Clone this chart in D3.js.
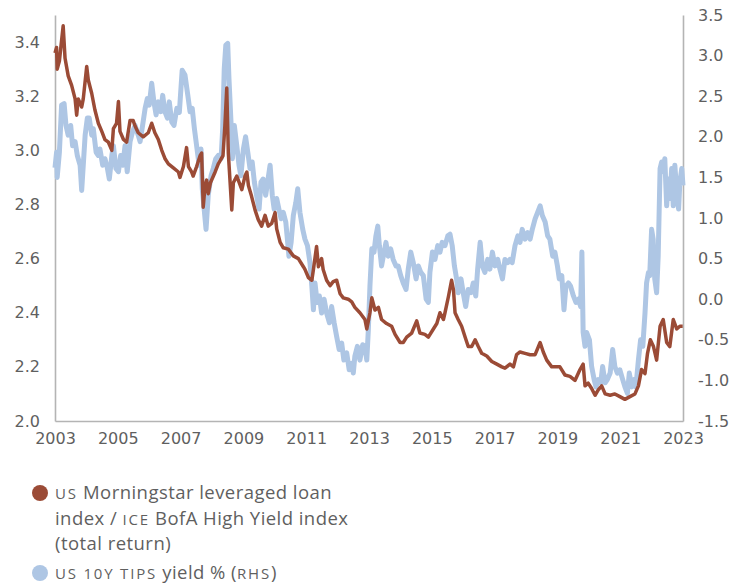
<!DOCTYPE html>
<html>
<head>
<meta charset="utf-8">
<script src="https://cdn.jsdelivr.net/npm/d3@7"></script>
<style>
  body { margin: 0; background: #fff; }
  svg text { fill: #5f5f5f; }
  .sc { font-variant-caps: all-small-caps; letter-spacing: 1.8px; font-size: 21px; }
</style>
</head>
<body>
<svg id="chart" width="734" height="586"></svg>
<script>
// US loan / HY index ratio (left axis), [year, ratio]
const loanPoints = [
  [2003.0,3.36],[2003.05,3.38],[2003.07,3.30],[2003.14,3.33],[2003.26,3.46],[2003.32,3.34],[2003.42,3.275],[2003.53,3.24],
  [2003.64,3.19],[2003.69,3.13],[2003.74,3.19],[2003.85,3.16],[2003.90,3.19],[2004.01,3.31],[2004.06,3.26],[2004.17,3.21],
  [2004.27,3.15],[2004.38,3.10],[2004.49,3.07],[2004.59,3.04],[2004.70,3.03],[2004.81,3.00],[2004.86,3.08],[2004.96,3.10],
  [2005.02,3.18],[2005.07,3.07],[2005.18,3.04],[2005.28,3.03],[2005.39,3.11],[2005.49,3.11],[2005.55,3.09],[2005.65,3.065],
  [2005.81,3.05],[2005.97,3.065],[2006.08,3.10],[2006.18,3.065],[2006.29,3.04],[2006.40,3.00],[2006.50,2.97],[2006.61,2.95],
  [2006.77,2.935],[2006.93,2.92],[2006.98,2.90],[2007.09,2.94],[2007.19,3.01],[2007.25,2.94],[2007.35,2.92],[2007.40,2.905],
  [2007.51,2.94],[2007.62,2.98],[2007.67,2.99],[2007.72,2.79],[2007.78,2.87],[2007.83,2.89],[2007.88,2.84],[2007.95,2.88],
  [2008.10,2.92],[2008.20,2.95],[2008.35,2.98],[2008.41,3.09],[2008.47,3.23],[2008.52,2.99],[2008.63,2.78],[2008.68,2.88],
  [2008.79,2.905],[2008.95,2.855],[2009.05,2.905],[2009.11,2.92],[2009.16,2.87],[2009.26,2.83],[2009.37,2.78],[2009.47,2.745],
  [2009.58,2.72],[2009.69,2.76],[2009.79,2.72],[2009.90,2.73],[2010.01,2.77],[2010.06,2.71],[2010.17,2.66],[2010.27,2.64],
  [2010.43,2.635],[2010.59,2.61],[2010.75,2.60],[2010.91,2.57],[2010.96,2.56],[2011.07,2.53],[2011.18,2.52],[2011.23,2.56],
  [2011.33,2.645],[2011.39,2.57],[2011.49,2.60],[2011.54,2.56],[2011.65,2.52],[2011.76,2.50],[2011.86,2.515],[2011.97,2.52],
  [2012.08,2.47],[2012.18,2.455],[2012.34,2.45],[2012.45,2.44],[2012.55,2.42],[2012.71,2.40],[2012.87,2.375],[2012.93,2.34],
  [2013.03,2.40],[2013.09,2.455],[2013.19,2.41],[2013.30,2.42],[2013.40,2.375],[2013.56,2.36],[2013.72,2.35],[2013.83,2.32],
  [2013.99,2.29],[2014.09,2.29],[2014.20,2.31],[2014.36,2.325],[2014.52,2.37],[2014.62,2.325],[2014.78,2.32],[2014.89,2.31],
  [2015.05,2.34],[2015.16,2.36],[2015.26,2.40],[2015.37,2.375],[2015.42,2.40],[2015.53,2.46],[2015.63,2.52],[2015.69,2.485],
  [2015.74,2.40],[2015.84,2.375],[2015.95,2.35],[2016.06,2.31],[2016.16,2.275],[2016.27,2.275],[2016.38,2.30],[2016.48,2.275],
  [2016.59,2.25],[2016.75,2.24],[2016.91,2.22],[2017.07,2.21],[2017.23,2.20],[2017.33,2.195],[2017.49,2.21],[2017.60,2.20],
  [2017.70,2.245],[2017.81,2.255],[2017.97,2.25],[2018.13,2.245],[2018.29,2.245],[2018.45,2.29],[2018.55,2.255],[2018.66,2.225],
  [2018.82,2.20],[2018.92,2.20],[2019.08,2.20],[2019.24,2.17],[2019.40,2.165],[2019.56,2.15],[2019.72,2.19],[2019.82,2.21],
  [2019.88,2.13],[2019.98,2.14],[2020.09,2.12],[2020.20,2.095],[2020.30,2.115],[2020.41,2.13],[2020.52,2.10],[2020.68,2.095],
  [2020.83,2.10],[2020.99,2.09],[2021.15,2.08],[2021.31,2.09],[2021.47,2.10],[2021.58,2.13],[2021.68,2.19],[2021.79,2.175],
  [2021.87,2.25],[2021.96,2.30],[2022.06,2.275],[2022.16,2.225],[2022.27,2.35],[2022.37,2.375],[2022.48,2.29],[2022.58,2.275],
  [2022.69,2.375],[2022.80,2.34],[2022.90,2.35],[2022.99,2.35]
];

// US 10y TIPS yield % (right axis), [year, yield]
const tipsPoints = [
  [2003.0,1.62],[2003.05,1.81],[2003.07,1.50],[2003.14,1.81],[2003.21,2.39],[2003.29,2.41],[2003.35,2.14],[2003.42,2.02],
  [2003.50,2.14],[2003.56,1.89],[2003.64,1.94],[2003.71,1.77],[2003.80,1.65],[2003.85,1.34],[2003.90,1.65],[2003.96,2.02],
  [2004.03,2.23],[2004.09,2.23],[2004.17,2.02],[2004.22,2.10],[2004.31,1.81],[2004.38,1.77],[2004.43,1.85],[2004.52,1.65],
  [2004.59,1.73],[2004.67,1.61],[2004.73,1.48],[2004.81,1.77],[2004.86,1.89],[2004.94,1.61],[2005.02,1.57],[2005.09,1.77],
  [2005.16,1.65],[2005.23,1.89],[2005.30,1.57],[2005.39,1.94],[2005.47,2.06],[2005.55,2.14],[2005.65,2.02],[2005.71,1.94],
  [2005.79,2.14],[2005.87,2.35],[2005.94,2.47],[2006.00,2.39],[2006.08,2.66],[2006.15,2.43],[2006.22,2.27],[2006.29,2.43],
  [2006.37,2.31],[2006.43,2.51],[2006.50,2.31],[2006.58,2.23],[2006.64,2.43],[2006.72,2.18],[2006.79,2.14],[2006.88,2.35],
  [2006.96,2.30],[2007.05,2.82],[2007.14,2.76],[2007.23,2.51],[2007.30,2.31],[2007.37,2.35],[2007.44,2.10],[2007.51,1.89],
  [2007.59,1.65],[2007.65,1.85],[2007.69,1.36],[2007.75,1.11],[2007.81,0.86],[2007.88,1.28],[2007.97,1.52],[2008.04,1.61],
  [2008.12,1.73],[2008.20,1.77],[2008.29,1.73],[2008.34,2.10],[2008.39,2.84],[2008.44,3.13],[2008.50,3.15],[2008.54,2.72],
  [2008.61,2.14],[2008.65,1.73],[2008.71,2.14],[2008.79,1.89],[2008.86,1.65],[2008.92,1.52],[2009.00,1.85],[2009.07,2.00],
  [2009.14,1.81],[2009.21,1.61],[2009.28,1.69],[2009.35,1.44],[2009.42,1.28],[2009.50,1.11],[2009.56,1.44],[2009.63,1.48],
  [2009.71,1.28],[2009.77,1.44],[2009.85,1.65],[2009.92,1.28],[2009.98,1.11],[2010.06,1.24],[2010.13,1.11],[2010.20,0.99],
  [2010.27,1.07],[2010.35,0.95],[2010.41,0.70],[2010.45,0.53],[2010.52,0.70],[2010.59,1.03],[2010.67,1.19],[2010.73,1.36],
  [2010.80,1.07],[2010.89,0.86],[2010.96,0.74],[2011.04,0.66],[2011.12,0.45],[2011.18,0.16],[2011.23,-0.13],[2011.28,0.20],
  [2011.35,-0.04],[2011.42,0.04],[2011.49,-0.17],[2011.57,0.00],[2011.65,-0.17],[2011.74,-0.29],[2011.81,-0.09],[2011.89,-0.29],
  [2011.97,-0.46],[2012.05,-0.62],[2012.13,-0.54],[2012.20,-0.75],[2012.29,-0.66],[2012.37,-0.87],[2012.45,-0.79],[2012.50,-0.91],
  [2012.55,-0.70],[2012.63,-0.58],[2012.71,-0.75],[2012.80,-0.56],[2012.87,-0.58],[2012.93,-0.75],[2012.98,-0.37],[2013.03,0.16],
  [2013.09,0.62],[2013.16,0.58],[2013.22,0.78],[2013.28,0.90],[2013.33,0.66],[2013.40,0.41],[2013.48,0.58],[2013.54,0.70],
  [2013.61,0.53],[2013.69,0.62],[2013.77,0.49],[2013.86,0.41],[2013.93,0.41],[2014.01,0.29],[2014.09,0.20],[2014.18,0.12],
  [2014.25,0.37],[2014.33,0.58],[2014.41,0.45],[2014.50,0.25],[2014.57,0.41],[2014.65,0.33],[2014.73,0.29],[2014.82,0.00],
  [2014.89,-0.04],[2014.94,0.33],[2015.02,0.58],[2015.10,0.49],[2015.19,0.66],[2015.26,0.58],[2015.33,0.70],[2015.42,0.66],
  [2015.51,0.78],[2015.58,0.80],[2015.65,0.66],[2015.72,0.41],[2015.79,0.25],[2015.84,0.08],[2015.93,0.25],[2016.00,0.08],
  [2016.08,-0.09],[2016.16,0.12],[2016.25,0.08],[2016.32,0.20],[2016.40,0.04],[2016.46,0.37],[2016.54,0.70],[2016.61,0.41],
  [2016.69,0.33],[2016.78,0.49],[2016.85,0.37],[2016.93,0.58],[2017.01,0.41],[2017.10,0.49],[2017.17,0.37],[2017.25,0.25],
  [2017.33,0.49],[2017.42,0.45],[2017.49,0.49],[2017.56,0.45],[2017.65,0.66],[2017.74,0.78],[2017.81,0.70],[2017.88,0.86],
  [2017.97,0.74],[2018.05,0.82],[2018.13,0.74],[2018.20,0.86],[2018.29,0.99],[2018.37,1.07],[2018.45,1.15],[2018.52,1.03],
  [2018.61,0.95],[2018.69,0.78],[2018.76,0.74],[2018.85,0.53],[2018.92,0.58],[2019.00,0.41],[2019.06,0.25],[2019.14,0.29],
  [2019.21,-0.13],[2019.27,0.16],[2019.35,0.20],[2019.42,0.16],[2019.51,0.04],[2019.59,-0.04],[2019.67,0.00],[2019.74,-0.09],
  [2019.78,0.58],[2019.82,-0.41],[2019.88,-0.58],[2019.93,-0.41],[2020.02,-0.50],[2020.09,-0.83],[2020.17,-0.99],[2020.23,-1.08],
  [2020.30,-0.99],[2020.38,-1.03],[2020.44,-0.83],[2020.52,-1.03],[2020.59,-0.99],[2020.68,-0.91],[2020.76,-0.62],[2020.83,-0.83],
  [2020.91,-0.91],[2020.99,-0.87],[2021.08,-0.99],[2021.15,-1.08],[2021.23,-1.16],[2021.29,-0.91],[2021.37,-1.08],[2021.44,-0.99],
  [2021.50,-1.08],[2021.58,-0.75],[2021.65,-0.50],[2021.72,-0.58],[2021.79,-0.17],[2021.84,0.20],[2021.90,0.33],[2021.94,0.29],
  [2022.00,0.86],[2022.05,0.74],[2022.10,0.25],[2022.16,0.08],[2022.21,0.53],[2022.27,1.61],[2022.32,1.69],[2022.37,1.57],
  [2022.42,1.73],[2022.48,1.15],[2022.53,1.48],[2022.58,1.24],[2022.64,1.61],[2022.69,1.15],[2022.74,1.65],[2022.80,1.32],
  [2022.86,1.11],[2022.90,1.44],[2022.96,1.61],[2023.0,1.40]
];

const yearTicks = [2003, 2005, 2007, 2009, 2011, 2013, 2015, 2017, 2019, 2021, 2023];
const leftTicks = [2.0, 2.2, 2.4, 2.6, 2.8, 3.0, 3.2, 3.4];
const rightTicks = [-1.5, -1.0, -0.5, 0.0, 0.5, 1.0, 1.5, 2.0, 2.5, 3.0, 3.5];

const loanColor = '#9b4b36';
const tipsColor = '#aec6e4';

const svg = d3.select('#chart');
const plotLeft = 55, plotRight = 683, plotTop = 15, plotBottom = 421;

const x = d3.scaleLinear().domain([2003, 2023]).range([plotLeft, plotRight]);
const yLeft = d3.scaleLinear().domain([2.0, 3.5]).range([plotBottom, plotTop]);
const yRight = d3.scaleLinear().domain([-1.5, 3.5]).range([plotBottom, plotTop]);

// axes (no tick marks, just lines and labels)
const xAxis = svg.append('g')
  .attr('transform', `translate(0,${plotBottom})`)
  .call(d3.axisBottom(x).tickValues(yearTicks).tickFormat(d3.format('d')).tickSize(0).tickPadding(12));
const lAxis = svg.append('g')
  .attr('transform', `translate(${plotLeft},0)`)
  .call(d3.axisLeft(yLeft).tickValues(leftTicks).tickFormat(d3.format('.1f')).tickSize(0).tickPadding(15));
const rAxis = svg.append('g')
  .attr('transform', `translate(${plotRight},0)`)
  .call(d3.axisRight(yRight).tickValues(rightTicks).tickFormat(d => d3.format('.1f')(d).replace('−', '-')).tickSize(0).tickPadding(15));

[xAxis, lAxis, rAxis].forEach(g => {
  g.select('.domain').attr('stroke', '#b4b4b4').attr('stroke-width', 1.6);
  g.selectAll('text')
    .attr('font-family', 'DejaVu Sans, Verdana, sans-serif')
    .attr('font-size', 16)
    .attr('fill', '#5f5f5f');
});

const tipsLine = d3.line().x(d => x(d[0])).y(d => yRight(d[1]));
const loanLine = d3.line().x(d => x(d[0])).y(d => yLeft(d[1]));

svg.append('path')
  .datum(tipsPoints)
  .attr('fill', 'none')
  .attr('stroke', tipsColor)
  .attr('stroke-width', 5)
  .attr('stroke-linejoin', 'round')
  .attr('d', tipsLine);

svg.append('path')
  .datum(loanPoints)
  .attr('fill', 'none')
  .attr('stroke', loanColor)
  .attr('stroke-width', 3.5)
  .attr('stroke-linejoin', 'round')
  .attr('d', loanLine);

// legend
const legend = svg.append('g')
  .attr('font-family', '"Open Sans", Lato, sans-serif')
  .attr('font-size', 18.5)
  .attr('letter-spacing', 0.45)
  .style('fill', '#666');

legend.append('circle').attr('cx', 40).attr('cy', 493).attr('r', 8).attr('fill', loanColor);
const t1 = legend.append('text').attr('x', 55).attr('y', 499);
t1.append('tspan').attr('class', 'sc').text('US');
t1.append('tspan').text(' Morningstar leveraged loan');
const t2 = legend.append('text').attr('x', 55).attr('y', 524.5);
t2.append('tspan').text('index / ');
t2.append('tspan').attr('class', 'sc').text('ICE');
t2.append('tspan').text(' BofA High Yield index');
legend.append('text').attr('x', 55).attr('y', 550).text('(total return)');

legend.append('circle').attr('cx', 40).attr('cy', 573).attr('r', 8).attr('fill', tipsColor);
const t4 = legend.append('text').attr('x', 55).attr('y', 579);
t4.append('tspan').attr('class', 'sc').text('US 10Y TIPS');
t4.append('tspan').text(' yield % (');
t4.append('tspan').attr('class', 'sc').text('RHS');
t4.append('tspan').text(')');
</script>
</body>
</html>
